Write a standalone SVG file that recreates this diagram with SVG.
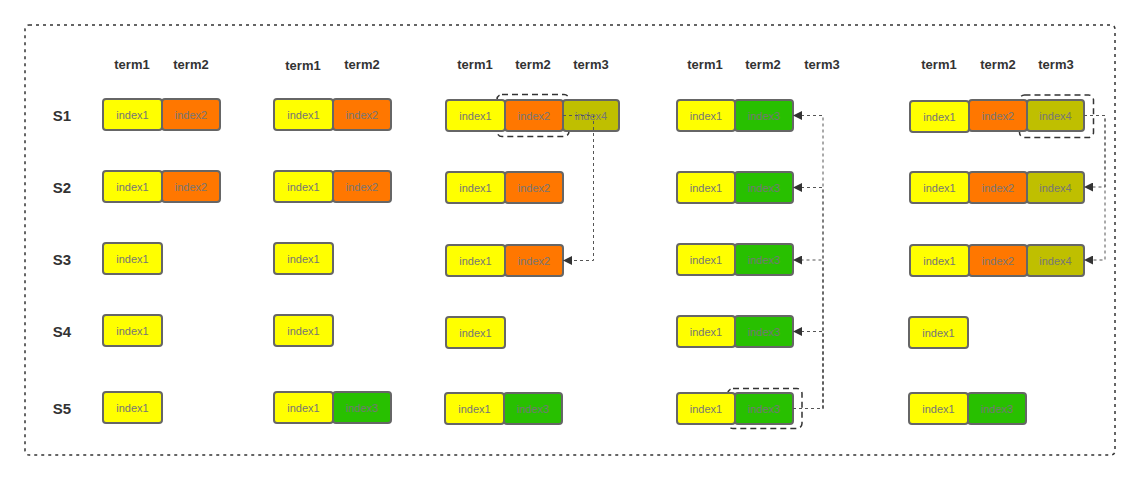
<svg xmlns="http://www.w3.org/2000/svg" width="1140" height="480" viewBox="0 0 1140 480">
<style>
.b{stroke:#666;stroke-width:2;}
.y{fill:#ffff00}.o{fill:#ff7700}.v{fill:#bfbf00}.g{fill:#28c000}
.t{font-family:"Liberation Sans",Arial,sans-serif;font-size:11px;fill:#767676;text-anchor:middle;dominant-baseline:central}
.h{font-family:"Liberation Sans",Arial,sans-serif;font-size:13px;font-weight:bold;fill:#333;text-anchor:middle}
.s{font-family:"Liberation Sans",Arial,sans-serif;font-size:15px;font-weight:bold;fill:#333;text-anchor:middle}
.hl{fill:none;stroke:#333;stroke-width:1.5;stroke-dasharray:6 4}
.c{fill:none;stroke:#555;stroke-width:1;stroke-dasharray:3 3}
</style>
<defs>
<marker id="a" viewBox="0 0 10 10" refX="10" refY="5" markerWidth="9" markerHeight="9" markerUnits="userSpaceOnUse" orient="auto">
<path d="M0,0 L10,5 L0,10 z" fill="#333"/>
</marker>
</defs>
<rect x="25" y="25" width="1090" height="430" rx="4" fill="#fff" stroke="#333" stroke-width="1.5" stroke-dasharray="3 4"/>
<g id="labels">
<text class="s" x="62" y="121">S1</text>
<text class="s" x="62" y="193">S2</text>
<text class="s" x="62" y="265">S3</text>
<text class="s" x="62" y="337">S4</text>
<text class="s" x="62" y="414">S5</text>
<text class="h" x="132" y="69">term1</text><text class="h" x="191" y="69">term2</text>
<text class="h" x="303" y="70">term1</text><text class="h" x="362" y="69">term2</text>
<text class="h" x="475" y="69">term1</text><text class="h" x="533" y="69">term2</text><text class="h" x="591" y="69">term3</text>
<text class="h" x="705" y="69">term1</text><text class="h" x="763" y="69">term2</text><text class="h" x="822" y="69">term3</text>
<text class="h" x="939" y="69">term1</text><text class="h" x="998" y="69">term2</text><text class="h" x="1056" y="69">term3</text>
</g>
<g id="highlights">
<rect class="hl" x="497" y="94.5" width="72" height="42" rx="5"/>
<rect class="hl" x="728" y="388.5" width="74" height="40" rx="5"/>
<rect class="hl" x="1019.5" y="95" width="74" height="42.5" rx="5"/>
</g>
<!-- column 1 -->
<g id="c1s1"><rect class="b y" x="103" y="99" width="59" height="31" rx="3"/><text class="t" x="132.5" y="114.5">index1</text><rect class="b o" x="162" y="99" width="58" height="31" rx="3"/><text class="t" x="191" y="114.5">index2</text></g>
<g id="c1s2"><rect class="b y" x="103" y="171" width="59" height="31" rx="3"/><text class="t" x="132.5" y="186.5">index1</text><rect class="b o" x="162" y="171" width="58" height="31" rx="3"/><text class="t" x="191" y="186.5">index2</text></g>
<g id="c1s3"><rect class="b y" x="103" y="243" width="59" height="31" rx="3"/><text class="t" x="132.5" y="258.5">index1</text></g>
<g id="c1s4"><rect class="b y" x="103" y="315" width="59" height="31" rx="3"/><text class="t" x="132.5" y="330.5">index1</text></g>
<g id="c1s5"><rect class="b y" x="103" y="392" width="59" height="31" rx="3"/><text class="t" x="132.5" y="407.5">index1</text></g>
<!-- column 2 -->
<g id="c2s1"><rect class="b y" x="274" y="99" width="59" height="31" rx="3"/><text class="t" x="303.5" y="114.5">index1</text><rect class="b o" x="333" y="99" width="58" height="31" rx="3"/><text class="t" x="362" y="114.5">index2</text></g>
<g id="c2s2"><rect class="b y" x="274" y="171" width="59" height="31" rx="3"/><text class="t" x="303.5" y="186.5">index1</text><rect class="b o" x="333" y="171" width="58" height="31" rx="3"/><text class="t" x="362" y="186.5">index2</text></g>
<g id="c2s3"><rect class="b y" x="274" y="243" width="59" height="31" rx="3"/><text class="t" x="303.5" y="258.5">index1</text></g>
<g id="c2s4"><rect class="b y" x="274" y="315" width="59" height="31" rx="3"/><text class="t" x="303.5" y="330.5">index1</text></g>
<g id="c2s5"><rect class="b y" x="274" y="392" width="59" height="31" rx="3"/><text class="t" x="303.5" y="407.5">index1</text><rect class="b g" x="333" y="392" width="58" height="31" rx="3"/><text class="t" x="362" y="407.5">index3</text></g>
<!-- column 3 -->
<g id="c3s1"><rect class="b y" x="446" y="100" width="59" height="31" rx="3"/><text class="t" x="475.5" y="115.5">index1</text><rect class="b o" x="505" y="100" width="58" height="31" rx="3"/><text class="t" x="534" y="115.5">index2</text><rect class="b v" x="563" y="100" width="56" height="31" rx="3"/><text class="t" x="591" y="115.5">index4</text></g>
<g id="c3s2"><rect class="b y" x="446" y="172" width="59" height="31" rx="3"/><text class="t" x="475.5" y="187.5">index1</text><rect class="b o" x="505" y="172" width="58" height="31" rx="3"/><text class="t" x="534" y="187.5">index2</text></g>
<g id="c3s3"><rect class="b y" x="446" y="245" width="59" height="31" rx="3"/><text class="t" x="475.5" y="260.5">index1</text><rect class="b o" x="505" y="245" width="58" height="31" rx="3"/><text class="t" x="534" y="260.5">index2</text></g>
<g id="c3s4"><rect class="b y" x="446" y="317" width="59" height="31" rx="3"/><text class="t" x="475.5" y="332.5">index1</text></g>
<g id="c3s5"><rect class="b y" x="445" y="393" width="59" height="31" rx="3"/><text class="t" x="474.5" y="408.5">index1</text><rect class="b g" x="504" y="393" width="58" height="31" rx="3"/><text class="t" x="533" y="408.5">index3</text></g>
<!-- column 4 -->
<g id="c4s1"><rect class="b y" x="677" y="100" width="58" height="31" rx="3"/><text class="t" x="706" y="115.5">index1</text><rect class="b g" x="735" y="100" width="58" height="31" rx="3"/><text class="t" x="764" y="115.5">index3</text></g>
<g id="c4s2"><rect class="b y" x="677" y="172" width="58" height="31" rx="3"/><text class="t" x="706" y="187.5">index1</text><rect class="b g" x="735" y="172" width="58" height="31" rx="3"/><text class="t" x="764" y="187.5">index3</text></g>
<g id="c4s3"><rect class="b y" x="677" y="244" width="58" height="31" rx="3"/><text class="t" x="706" y="259.5">index1</text><rect class="b g" x="735" y="244" width="58" height="31" rx="3"/><text class="t" x="764" y="259.5">index3</text></g>
<g id="c4s4"><rect class="b y" x="677" y="316" width="58" height="31" rx="3"/><text class="t" x="706" y="331.5">index1</text><rect class="b g" x="735" y="316" width="58" height="31" rx="3"/><text class="t" x="764" y="331.5">index3</text></g>
<g id="c4s5"><rect class="b y" x="677" y="393" width="58" height="31" rx="3"/><text class="t" x="706" y="408.5">index1</text><rect class="b g" x="735" y="393" width="58" height="31" rx="3"/><text class="t" x="764" y="408.5">index3</text></g>
<!-- column 5 -->
<g id="c5s1"><rect class="b y" x="910" y="101" width="59" height="31" rx="3"/><text class="t" x="939.5" y="116.5">index1</text><rect class="b o" x="969" y="100" width="58" height="31" rx="3"/><text class="t" x="998" y="115.5">index2</text><rect class="b v" x="1027" y="100" width="57" height="31" rx="3"/><text class="t" x="1055.5" y="115.5">index4</text></g>
<g id="c5s2"><rect class="b y" x="910" y="172" width="59" height="31" rx="3"/><text class="t" x="939.5" y="187.5">index1</text><rect class="b o" x="969" y="172" width="58" height="31" rx="3"/><text class="t" x="998" y="187.5">index2</text><rect class="b v" x="1027" y="172" width="57" height="31" rx="3"/><text class="t" x="1055.5" y="187.5">index4</text></g>
<g id="c5s3"><rect class="b y" x="910" y="245" width="59" height="31" rx="3"/><text class="t" x="939.5" y="260.5">index1</text><rect class="b o" x="969" y="245" width="58" height="31" rx="3"/><text class="t" x="998" y="260.5">index2</text><rect class="b v" x="1027" y="245" width="57" height="31" rx="3"/><text class="t" x="1055.5" y="260.5">index4</text></g>
<g id="c5s4"><rect class="b y" x="909" y="317" width="59" height="31" rx="3"/><text class="t" x="938.5" y="332.5">index1</text></g>
<g id="c5s5"><rect class="b y" x="909" y="393" width="59" height="31" rx="3"/><text class="t" x="938.5" y="408.5">index1</text><rect class="b g" x="968" y="393" width="58" height="31" rx="3"/><text class="t" x="997" y="408.5">index3</text></g>
<g id="connectors">
<path class="c" d="M563,115.5 H593.5 V260.5 H563" marker-end="url(#a)"/>
<path class="c" d="M793,408.5 H823 V115.5 H793" marker-end="url(#a)"/>
<path class="c" d="M793,408.5 H823 V187.5 H793" marker-end="url(#a)"/>
<path class="c" d="M793,408.5 H823 V260 H793" marker-end="url(#a)"/>
<path class="c" d="M793,408.5 H823 V331.5 H793" marker-end="url(#a)"/>
<path class="c" d="M1084,115.5 H1105 V187 H1084" marker-end="url(#a)"/>
<path class="c" d="M1084,115.5 H1105 V260 H1084" marker-end="url(#a)"/>
</g>
</svg>
